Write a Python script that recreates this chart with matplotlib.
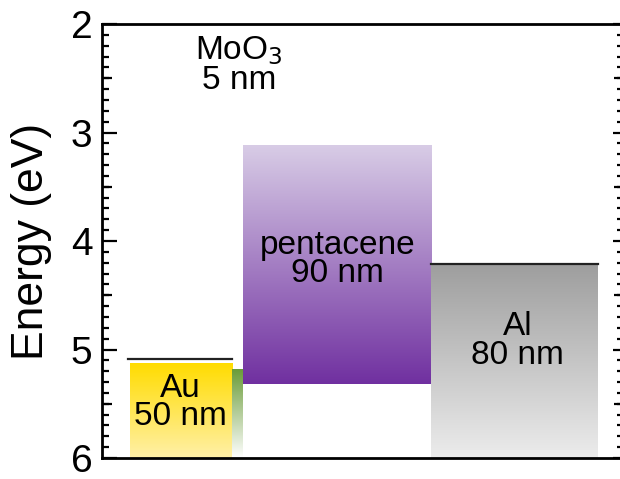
import matplotlib.pyplot as plt
import numpy as np
from matplotlib.colors import to_rgb
from matplotlib.ticker import MultipleLocator, FixedLocator

plt.rcParams['font.family'] = ['Liberation Sans', 'DejaVu Sans']

# energy levels (eV) and layer extents along the stack (arbitrary units 0-100)
layers = ['Au', 'MoO3', 'pentacene', 'Al']
x_left = [5.4, 25.1, 27.3, 63.6]
x_right = [25.1, 27.1, 63.6, 95.7]
e_top = [5.13, 5.18, 3.12, 4.22]
e_bottom = [6.0, 6.0, 5.32, 6.0]
top_colors = ['#ffdc00', '#6a9c38', '#d8cce6', '#9e9e9e']
bottom_colors = ['#fff0a8', '#ffffff', '#7030a0', '#ececec']

# work function lines
wf_x0 = [5.0, 63.6]
wf_x1 = [25.1, 95.7]
wf_e = [5.09, 4.21]

labels = ['Au\n50 nm', 'MoO$_3$\n5 nm', 'pentacene\n90 nm', 'Al\n80 nm']
label_x = [15.2, 26.4, 45.5, 80.2]
label_e = [5.49, 2.38, 4.17, 4.92]

fig = plt.figure(figsize=(6.2, 4.79), dpi=100)
ax = fig.add_axes([0.1645, 0.0438, 1.0 - 0.1645, 0.906])

for i in range(len(layers)):
    c0 = np.array(to_rgb(top_colors[i]))
    c1 = np.array(to_rgb(bottom_colors[i]))
    t = np.linspace(0, 1, 256)[:, None]
    grad = (c0 * (1 - t) + c1 * t)[:, None, :]
    ax.imshow(grad, extent=[x_left[i], x_right[i], e_bottom[i], e_top[i]],
              aspect='auto', interpolation='bilinear', zorder=1)

for x0, x1, e in zip(wf_x0, wf_x1, wf_e):
    ax.plot([x0, x1], [e, e], color='#222222', lw=1.6, zorder=3)

for s, x, e in zip(labels, label_x, label_e):
    ax.text(x, e, s, ha='center', va='center', fontsize=24,
            linespacing=0.9, zorder=4)

ax.set_xlim(0, 100)
ax.set_ylim(6, 2)
ax.set_xticks([])
ax.set_ylabel('Energy (eV)', fontsize=32, labelpad=13)

for side in ['left', 'top', 'bottom']:
    ax.spines[side].set_linewidth(2.0)
ax.spines['right'].set_visible(False)

ax.yaxis.set_major_locator(MultipleLocator(1))
ax.yaxis.set_minor_locator(MultipleLocator(0.1))
ax.tick_params(axis='y', which='major', direction='in', length=11, width=1.6,
               labelsize=28, pad=7)
ax.tick_params(axis='y', which='minor', direction='in', length=5, width=1.6)

# half-eV ticks, a bit longer than the minor ones
sec_l = ax.secondary_yaxis('left')
sec_l.yaxis.set_major_locator(FixedLocator([2.5, 3.5, 4.5, 5.5]))
sec_l.tick_params(direction='in', length=7.5, width=1.6, labelleft=False)
sec_l.spines['left'].set_visible(False)

# short ticks on the right edge
sec_r = ax.secondary_yaxis('right')
sec_r.yaxis.set_major_locator(MultipleLocator(1))
sec_r.yaxis.set_minor_locator(MultipleLocator(0.1))
sec_r.tick_params(which='major', direction='in', length=5, width=1.6, labelright=False)
sec_r.tick_params(which='minor', direction='in', length=2, width=1.6)
sec_r.spines['right'].set_visible(False)

sec_r2 = ax.secondary_yaxis('right')
sec_r2.yaxis.set_major_locator(FixedLocator([2.5, 3.5, 4.5, 5.5]))
sec_r2.tick_params(direction='in', length=4, width=1.6, labelright=False)
sec_r2.spines['right'].set_visible(False)

plt.savefig('out.png', dpi=100)
plt.close()
